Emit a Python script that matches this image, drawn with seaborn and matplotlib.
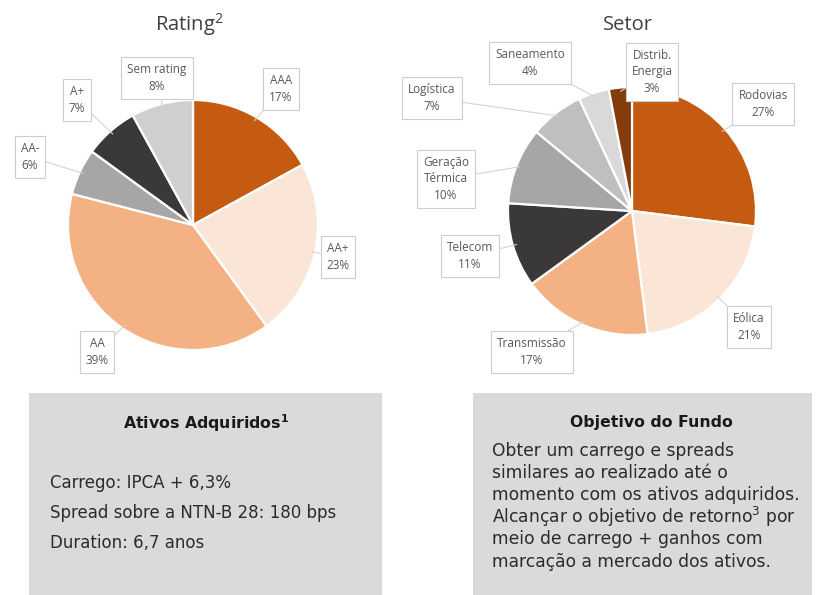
import numpy as np
import matplotlib
matplotlib.use("Agg")
import matplotlib.pyplot as plt
import seaborn as sns

sns.set_theme(style="white")
plt.rcParams["font.family"] = ["Open Sans", "DejaVu Sans"]

# ---- data -------------------------------------------------------------
rating_labels = ["AAA", "AA+", "AA", "AA-", "A+", "Sem rating"]
rating_values = [17, 23, 39, 6, 7, 8]
rating_colors = ["#C55A11", "#FBE5D6", "#F4B183", "#A6A6A6", "#3A3838", "#D0CECE"]

setor_labels = ["Rodovias", "Eólica", "Transmissão", "Telecom",
                "Geração\nTérmica", "Logística", "Saneamento", "Distrib.\nEnergia"]
setor_values = [27, 21, 17, 11, 10, 7, 4, 3]
setor_colors = ["#C55A11", "#FBE5D6", "#F4B183", "#3A3838",
                "#A6A6A6", "#BFBFBF", "#D9D9D9", "#843C0C"]

ativos_title = r"Ativos Adquiridos$^\mathregular{1}$"
ativos_lines = ["Carrego: IPCA + 6,3%",
                "Spread sobre a NTN-B 28: 180 bps",
                "Duration: 6,7 anos"]

objetivo_title = "Objetivo do Fundo"
objetivo_lines = ["Obter um carrego e spreads",
                  "similares ao realizado até o",
                  "momento com os ativos adquiridos.",
                  r"Alcançar o objetivo de retorno$^\mathregular{3}$ por",
                  "meio de carrego + ganhos com",
                  "marcação a mercado dos ativos."]

# ---- layout (pixel space, origin top-left) ----------------------------
W, H = 816, 595
rating_center, rating_radius = (193, 225), 125
setor_center, setor_radius = (632, 211), 124

rating_label_pos = [(281, 89), (338, 257), (97, 352), (30, 157), (77, 100), (157, 78)]
setor_label_pos = [(763, 104), (749, 327), (532, 352), (470, 256),
                   (446, 179), (432, 98), (530, 63), (652, 72)]

fig = plt.figure(figsize=(W / 100, H / 100), dpi=100)
ax = fig.add_axes([0, 0, 1, 1])


def fy(y):
    return H - y


def draw_pie(values, labels, colors, center, radius, label_pos):
    wedges, _ = ax.pie(values, colors=colors, startangle=90, counterclock=False,
                       center=(center[0], fy(center[1])), radius=radius,
                       wedgeprops=dict(edgecolor="white", linewidth=1.6))
    for w, lab, val, (lx, ly) in zip(wedges, labels, values, label_pos):
        ang = np.deg2rad((w.theta1 + w.theta2) / 2)
        px = center[0] + radius * 0.97 * np.cos(ang)
        py = fy(center[1]) + radius * 0.97 * np.sin(ang)
        ax.annotate(f"{lab}\n{val}%", xy=(px, py), xytext=(lx, fy(ly)),
                    ha="center", va="center", fontsize=8.5, color="#595959",
                    linespacing=1.35, zorder=5,
                    bbox=dict(boxstyle="square,pad=0.5", fc="white",
                              ec="#CDCDCD", lw=0.8),
                    arrowprops=dict(arrowstyle="-", color="#D4D4D4", lw=0.8,
                                    shrinkA=0, shrinkB=0))


draw_pie(rating_values, rating_labels, rating_colors,
         rating_center, rating_radius, rating_label_pos)
draw_pie(setor_values, setor_labels, setor_colors,
         setor_center, setor_radius, setor_label_pos)

ax.text(189, fy(25), r"Rating$^\mathregular{2}$", ha="center", va="center",
        fontsize=14.5, color="#404040")
ax.text(628, fy(25), "Setor", ha="center", va="center",
        fontsize=14.5, color="#404040")

# ---- text panels ------------------------------------------------------
panel_font = ["DejaVu Sans"]
panel_color = "#DADADA"
ax.add_patch(plt.Rectangle((29, 0), 382 - 29, fy(393), fc=panel_color, ec="none"))
ax.add_patch(plt.Rectangle((473, 0), 812 - 473, fy(393), fc=panel_color, ec="none"))

ax.text(206, fy(423), ativos_title, ha="center", va="center", family=panel_font,
        fontsize=11.3, fontweight="bold", color="#1A1A1A")
for i, line in enumerate(ativos_lines):
    ax.text(50, fy(483 + 30 * i), line, ha="left", va="center", family=panel_font,
            fontsize=12, color="#2B2B2B")

ax.text(651, fy(423), objetivo_title, ha="center", va="center", family=panel_font,
        fontsize=11.3, fontweight="bold", color="#1A1A1A")
obj_y = [451, 473, 495, 517, 539, 562]
for y, line in zip(obj_y, objetivo_lines):
    ax.text(492, fy(y), line, ha="left", va="center", family=panel_font,
            fontsize=12.3, color="#2B2B2B")

ax.set_xlim(0, W)
ax.set_ylim(0, H)
ax.set_aspect("auto")
ax.axis("off")

fig.savefig("out.png", dpi=100, facecolor="white")
